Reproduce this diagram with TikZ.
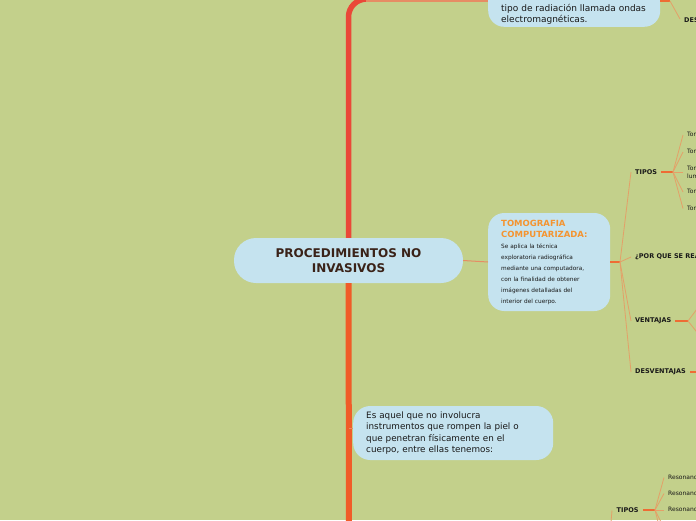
\documentclass[tikz,border=0pt]{standalone}
\usepackage{fontspec}
\setmainfont{DejaVu Sans}
\usetikzlibrary{positioning}

\definecolor{bgolive}{RGB}{195,208,139}
\definecolor{bubblefill}{RGB}{197,227,239}
\definecolor{spinered}{RGB}{234,72,56}
\definecolor{spineorange}{RGB}{240,92,40}
\definecolor{hubline}{RGB}{238,108,52}
\definecolor{fanline}{RGB}{228,160,104}
\definecolor{linksalmon}{RGB}{230,140,100}
\definecolor{titleorange}{RGB}{244,148,48}
\definecolor{darkbrown}{RGB}{58,34,24}
\definecolor{inkdark}{RGB}{25,25,25}

\begin{document}
\begin{tikzpicture}[x=1pt,y=-1pt,
  bubble/.style={fill=bubblefill,draw=none,inner sep=0pt,text=inkdark},
  lbl/.style={font=\fontsize{6.5}{8}\selectfont\bfseries,inner sep=0pt,anchor=west,text=inkdark},
  item/.style={font=\fontsize{6}{7.5}\selectfont,inner sep=0pt,anchor=west,align=left,text=inkdark},
  hub/.style={draw=hubline,line width=1.5pt},
  fan/.style={draw=fanline,line width=0.8pt},
  link/.style={draw=linksalmon,line width=1pt}
]

  %% background
  \useasboundingbox (0,0) rectangle (696,520);
  \clip (0,0) rectangle (696,520);
  \fill[bgolive] (0,0) rectangle (696,520);

  %% ===== central topic =====
  \node[bubble,rounded corners=22pt,minimum width=229pt,minimum height=45pt,
        align=center,font=\fontsize{12}{15}\selectfont\bfseries,text=darkbrown]
    (main) at (348.5,260.5) {PROCEDIMIENTOS NO\\INVASIVOS};

  % spine up and down
  \draw[spinered,line width=5.5pt,rounded corners=18pt] (main.north) |- (368,-1);
  \coordinate (spinebot) at (349,530);
  \draw[spineorange,line width=6pt] (main.south) -- (spinebot);

  %% ===== top subtopic (radiation) =====
  \node[bubble,rounded corners=16pt,minimum width=172pt,minimum height=70pt,anchor=south west]
    (radbox) at (488,27) {};
  \node[inner sep=0pt,anchor=west,align=left,font=\fontsize{9}{11}\selectfont,text=inkdark]
    (radtxt) at (501,14) {tipo de radiación llamada ondas\\electromagnéticas.};
  \draw[linksalmon,line width=5pt] (366,-1) -- (radbox.west |- 0,-1);

  \coordinate (radhub) at (670,1);
  \node[lbl] (destop) at (684,21) {DESVENTAJAS};
  \draw[hub,line width=2.5pt] (radbox.east |- radhub) -- (radhub);
  \draw[fan] (radhub) -- ([xshift=-4pt,yshift=2pt]destop.west);

  %% ===== tomografia =====
  \node[bubble,rounded corners=16pt,text width=96pt,inner xsep=13pt,minimum height=98pt,
        align=left,anchor=west,font=\fontsize{5.8}{11}\selectfont]
    (tomo) at (488,262)
    {{\fontsize{8.5}{11}\selectfont\bfseries\color{titleorange}TOMOGRAFIA\\COMPUTARIZADA:}\\
     Se aplica la técnica\\exploratoria radiográfica\\mediante una computadora,\\
     con la finalidad de obtener\\imágenes detalladas del\\interior del cuerpo.};

  \draw[link] (main.east) -- (tomo.west);

  \coordinate (tomohub) at (620,262);
  \draw[hub] (tomo.east) -- (tomohub);

  \node[lbl] (tipos) at (635,172) {TIPOS};
  \node[lbl] (porque) at (635,257) {¿POR QUE SE REALIZA?};
  \node[lbl] (ventajas) at (635,321) {VENTAJAS};
  \node[lbl] (desv) at (635,372) {DESVENTAJAS};

  \foreach \n in {tipos,porque,ventajas,desv}
    \draw[fan] (tomohub) -- ([xshift=-4pt]\n.west);

  % tipos of tomografia
  \node[item] (t1) at (687,135) {Tomografía axial};
  \node[item] (t2) at (687,152) {Tomografía helicoidal};
  \node[item] (t3) at (687,172) {Tomografía de columna\\lumbar};
  \node[item] (t4) at (687,192) {Tomografía cerebral};
  \node[item] (t5) at (687,208.5) {Tomografía abdominal};

  \coordinate (tiposhub) at (673,172);
  \draw[hub] ([xshift=4pt]tipos.east) -- (tiposhub);
  \foreach \n in {t1,t2,t3,t4,t5}
    \draw[fan] (tiposhub) -- ([xshift=-4pt]\n.west);

  % ventajas / desventajas
  \coordinate (venthub) at (688,321);
  \coordinate (vent1) at (700,305);
  \coordinate (vent2) at (700,336);
  \draw[hub] ([xshift=4pt]ventajas.east) -- (venthub);
  \draw[fan] (venthub) -- (vent1);
  \draw[fan] (venthub) -- (vent2);

  \coordinate (desvout) at (700,372);
  \draw[hub] ([xshift=4pt]desv.east) -- (desvout);

  %% ===== definition bubble =====
  \node[bubble,rounded corners=17pt,text width=174pt,inner xsep=13pt,minimum height=54pt,
        align=left,anchor=west,font=\fontsize{8.8}{11.3}\selectfont]
    (aquel) at (353,433)
    {Es aquel que no involucra\\instrumentos que rompen la piel o\\que penetran físicamente en el\\cuerpo, entre ellas tenemos:};
  \coordinate (aqueltap) at (349,428);
  \draw[link] (aqueltap) -- (aquel.west |- aqueltap);

  %% ===== resonancia tipos (bottom) =====
  \node[lbl] (tipos2) at (616.5,510) {TIPOS};
  \coordinate (tipos2in) at (609,545);
  \draw[fan] (tipos2in) -- ([xshift=-4.5pt,yshift=-0.5pt]tipos2.west);

  \node[item] (r1) at (668,477.5) {Resonancia magnética};
  \node[item] (r2) at (668,493.5) {Resonancia magnética};
  \node[item] (r3) at (668,510) {Resonancia magnética};
  \coordinate (r4) at (664,528);
  \coordinate (r5) at (664,545);

  \coordinate (tipos2hub) at (655,510);
  \draw[hub] ([xshift=4.5pt]tipos2.east) -- (tipos2hub);
  \foreach \n in {r1,r2,r3}
    \draw[fan] (tipos2hub) -- ([xshift=-4pt]\n.west);
  \draw[fan] (tipos2hub) -- (r4);
  \draw[fan] (tipos2hub) -- (r5);

\end{tikzpicture}
\end{document}
